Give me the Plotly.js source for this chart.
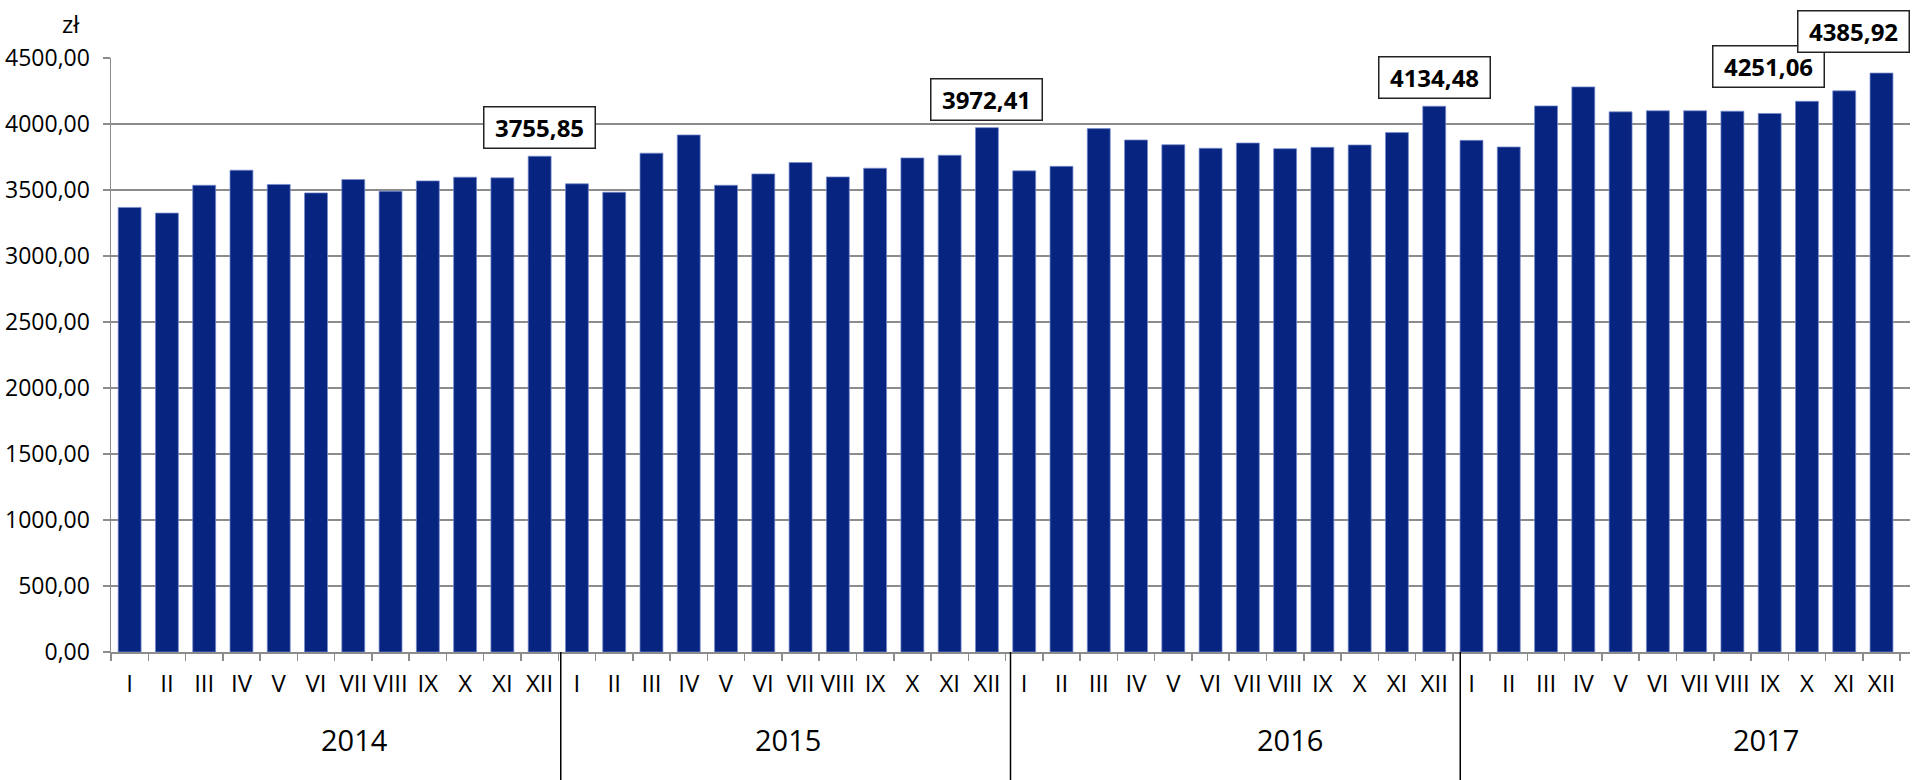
<!DOCTYPE html>
<html>
<head>
<meta charset="utf-8">
<script src="https://cdn.plot.ly/plotly-3.0.1.min.js"></script>
<style>
  html, body { margin: 0; padding: 0; background: #ffffff; }
  #chart { width: 1915px; height: 780px; }
</style>
</head>
<body>
<div id="chart"></div>
<script>
// ---- data ----
const months = ['I','II','III','IV','V','VI','VII','VIII','IX','X','XI','XII'];
const years = ['2014','2015','2016','2017'];
const wages2014 = [3368, 3325, 3536, 3650, 3542, 3478, 3579, 3491, 3569, 3597, 3592, 3755.85];
const wages2015 = [3547, 3483, 3779, 3917, 3536, 3622, 3708, 3599, 3665, 3743, 3763, 3972.41];
const wages2016 = [3645, 3679, 3965, 3879, 3843, 3816, 3856, 3813, 3823, 3841, 3935, 4134.48];
const wages2017 = [3876, 3826, 4137, 4281, 4092, 4100, 4100, 4097, 4080, 4172, 4251.06, 4385.92];
const unitLabel = 'zł';

// ---- build categories ----
const series = [wages2014, wages2015, wages2016, wages2017];
const xCats = [], yVals = [], tickText = [];
years.forEach((yr, i) => {
  months.forEach((m, j) => {
    xCats.push(yr + ' ' + m);
    yVals.push(series[i][j]);
    tickText.push(m);
  });
});

const fmt = v => v.toFixed(2).replace('.', ',');

// labelled bars (year index, month index) and their box offsets in px
const labelled = [
  {yi: 0, mi: 11, dx: 0,   dy: 28.5},
  {yi: 1, mi: 11, dx: 0,   dy: 28.5},
  {yi: 2, mi: 11, dx: 0,   dy: 28.5},
  {yi: 3, mi: 10, dx: -76, dy: 24},
  {yi: 3, mi: 11, dx: -28, dy: 42}
];

const FONT = 'Open Sans, Noto Sans, sans-serif';
const GRID = '#8c8c8c';

const annotations = labelled.map(l => ({
  x: years[l.yi] + ' ' + months[l.mi],
  y: series[l.yi][l.mi],
  xref: 'x', yref: 'y',
  text: '<b>' + fmt(series[l.yi][l.mi]) + '</b>',
  showarrow: false,
  xanchor: 'center', yanchor: 'middle',
  xshift: l.dx, yshift: l.dy,
  font: {family: FONT, size: 24, color: '#000'},
  bgcolor: '#ffffff',
  bordercolor: '#222222',
  borderwidth: 1.5,
  borderpad: 3,
  width: 104,
  height: 34
}));

// year labels (positions as in the reference)
const yearPos = [0.1351, 0.3763, 0.6554, 0.920];
years.forEach((yr, i) => {
  annotations.push({
    x: yearPos[i], y: -0.1475, xref: 'paper', yref: 'paper',
    text: yr, showarrow: false, xanchor: 'center', yanchor: 'middle',
    font: {family: FONT, size: 29, color: '#000'}
  });
});

// unit label
annotations.push({
  x: -0.022, y: 1.058, xref: 'paper', yref: 'paper',
  text: unitLabel, showarrow: false, xanchor: 'center', yanchor: 'middle',
  font: {family: FONT, size: 24, color: '#000'}
});

// year separators
const shapes = [];
for (let k = 1; k < years.length; k++) {
  const fx = (k * months.length) / xCats.length;
  shapes.push({
    type: 'line', xref: 'paper', yref: 'paper',
    x0: fx, x1: fx, y0: 0, y1: -0.23,
    line: {color: '#000000', width: 1.5}
  });
}

const trace = {
  type: 'bar',
  x: xCats,
  y: yVals,
  marker: {
    color: '#062480',
    line: {color: 'rgba(120,140,205,0.75)', width: 1}
  },
  hoverinfo: 'x+y'
};

const layout = {
  width: 1915,
  height: 780,
  margin: {l: 111, r: 5, t: 58, b: 128, pad: 0},
  paper_bgcolor: '#ffffff',
  plot_bgcolor: '#ffffff',
  separators: ', ',
  showlegend: false,
  bargap: 0.385,
  font: {family: FONT, color: '#000'},
  xaxis: {
    type: 'category',
    tickvals: xCats,
    ticktext: tickText,
    tickson: 'boundaries',
    ticks: 'outside',
    ticklen: 7,
    tickwidth: 1.5,
    tickcolor: GRID,
    showline: true,
    linecolor: GRID,
    linewidth: 1.5,
    showgrid: false,
    tickangle: 0,
    tickfont: {family: FONT, size: 24, color: '#000'},
    ticklabelstandoff: 10
  },
  yaxis: {
    range: [0, 4500],
    dtick: 500,
    tick0: 0,
    tickformat: '.2f',
    ticks: 'outside',
    ticklen: 7,
    tickwidth: 1.5,
    tickcolor: GRID,
    showline: true,
    linecolor: GRID,
    linewidth: 1.5,
    showgrid: true,
    gridcolor: GRID,
    gridwidth: 1.5,
    zeroline: false,
    tickfont: {family: FONT, size: 23, color: '#000'},
    ticklabelstandoff: 8
  },
  annotations: annotations,
  shapes: shapes
};

Plotly.newPlot('chart', [trace], layout, {displayModeBar: false, staticPlot: true});
</script>
</body>
</html>
